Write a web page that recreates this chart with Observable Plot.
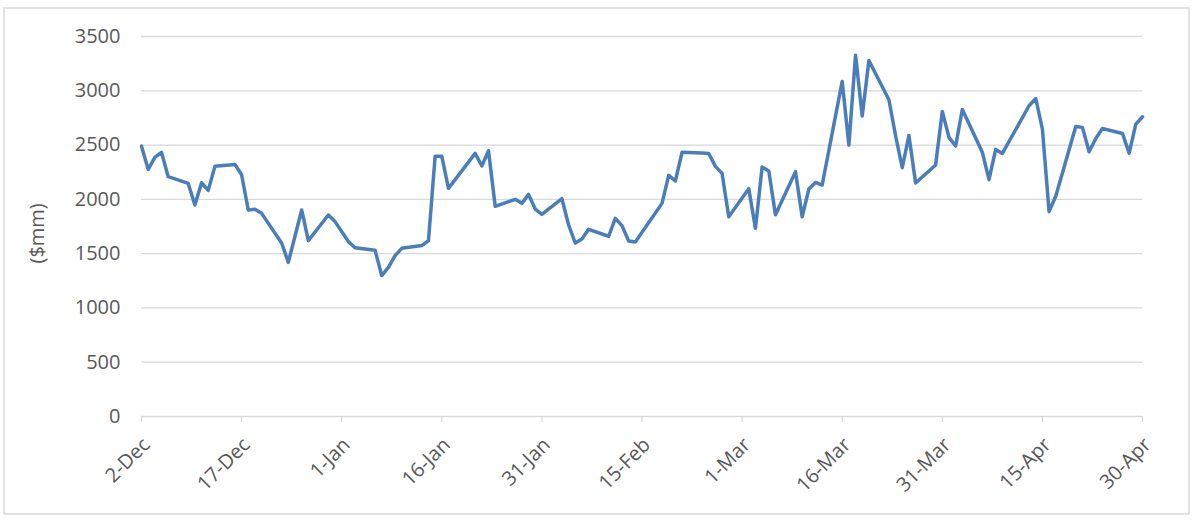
<!DOCTYPE html>
<html>
<head>
<meta charset="utf-8">
<script src="https://cdn.jsdelivr.net/npm/d3@7"></script>
<script src="https://cdn.jsdelivr.net/npm/@observablehq/plot@0.6"></script>
<style>
  html, body { margin: 0; padding: 0; background: #ffffff; }
  #chart { width: 1199px; height: 523px; }
</style>
</head>
<body>
<div id="chart"></div>
<script>
const dates = [
  "2019-12-02","2019-12-03","2019-12-04","2019-12-05","2019-12-06",
  "2019-12-09","2019-12-10","2019-12-11","2019-12-12","2019-12-13",
  "2019-12-16","2019-12-17","2019-12-18","2019-12-19","2019-12-20",
  "2019-12-23","2019-12-24","2019-12-26","2019-12-27",
  "2019-12-30","2019-12-31","2020-01-02","2020-01-03",
  "2020-01-06","2020-01-07","2020-01-08","2020-01-09","2020-01-10",
  "2020-01-13","2020-01-14","2020-01-15","2020-01-16","2020-01-17",
  "2020-01-21","2020-01-22","2020-01-23","2020-01-24",
  "2020-01-27","2020-01-28","2020-01-29","2020-01-30","2020-01-31",
  "2020-02-03","2020-02-04","2020-02-05","2020-02-06","2020-02-07",
  "2020-02-10","2020-02-11","2020-02-12","2020-02-13","2020-02-14",
  "2020-02-18","2020-02-19","2020-02-20","2020-02-21",
  "2020-02-24","2020-02-25","2020-02-26","2020-02-27","2020-02-28",
  "2020-03-02","2020-03-03","2020-03-04","2020-03-05","2020-03-06",
  "2020-03-09","2020-03-10","2020-03-11","2020-03-12","2020-03-13",
  "2020-03-16","2020-03-17","2020-03-18","2020-03-19","2020-03-20",
  "2020-03-23","2020-03-24","2020-03-25","2020-03-26","2020-03-27",
  "2020-03-30","2020-03-31","2020-04-01","2020-04-02","2020-04-03",
  "2020-04-06","2020-04-07","2020-04-08","2020-04-09",
  "2020-04-13","2020-04-14","2020-04-15","2020-04-16","2020-04-17",
  "2020-04-20","2020-04-21","2020-04-22","2020-04-23","2020-04-24",
  "2020-04-27","2020-04-28","2020-04-29","2020-04-30"
];
const values = [
  2490, 2276, 2387, 2433, 2209,
  2147, 1948, 2153, 2083, 2304,
  2322, 2227, 1902, 1908, 1871,
  1598, 1420, 1902, 1620,
  1856, 1795, 1611, 1555,
  1531, 1298, 1374, 1482, 1549,
  1574, 1620, 2396, 2396, 2101,
  2423, 2307, 2448, 1936,
  2000, 1963, 2046, 1911, 1862,
  2006, 1764, 1598, 1635, 1724,
  1660, 1825, 1758, 1617, 1608,
  1963, 2221, 2169, 2433,
  2428, 2423, 2304, 2239, 1840,
  2098, 1733, 2298, 2261, 1859,
  2255, 1840, 2095, 2156, 2132,
  3086, 2500, 3328, 2767, 3279,
  2917, 2586, 2291, 2589, 2150,
  2316, 2810, 2571, 2491, 2828,
  2433, 2181, 2460, 2423,
  2862, 2929, 2647, 1887, 2028,
  2672, 2663, 2439, 2561, 2653,
  2607, 2426, 2693, 2761
];
const xTickDates = ["2019-12-02","2019-12-17","2020-01-01","2020-01-16","2020-01-31","2020-02-15","2020-03-01","2020-03-16","2020-03-31","2020-04-15","2020-04-30"];
const yTicks = [0, 500, 1000, 1500, 2000, 2500, 3000, 3500];
const yLabel = "($mm)";

const parse = d3.utcParse("%Y-%m-%d");
const data = dates.map((d, i) => ({date: parse(d), value: values[i]}));
const xTicks = xTickDates.map(parse);

const chart = Plot.plot({
  width: 1199,
  height: 523,
  marginLeft: 141,
  marginRight: 57,
  marginTop: 36,
  marginBottom: 107,
  style: {fontFamily: "'Open Sans', sans-serif", fontSize: "20px", background: "#ffffff", overflow: "visible"},
  x: {type: "utc", domain: [xTicks[0], xTicks[xTicks.length - 1]]},
  y: {domain: [0, 3500]},
  marks: [
    Plot.ruleY(yTicks, {stroke: "#d9d9d9", strokeWidth: 1.3}),
    Plot.axisY({ticks: yTicks, tickFormat: d3.format("d"), tickSize: 0, tickPadding: 21, fill: "#595959", fontSize: 20, label: null}),
    Plot.axisX({ticks: xTicks, tickFormat: () => "", tickSize: 6, stroke: "#d9d9d9", strokeWidth: 1.3, label: null}),
    Plot.axisX({ticks: xTicks, tickFormat: d3.utcFormat("%-d-%b"), tickRotate: -45, tickSize: 0, tickPadding: 25, dx: 5,
                fill: "#595959", fontSize: 20, label: null}),
    Plot.text([yLabel], {frameAnchor: "left", rotate: -90, dx: -104, dy: 37, fill: "#595959", fontSize: 20}),
    Plot.line(data, {x: "date", y: "value", stroke: "#4a7ebb", strokeWidth: 3.5, strokeLinejoin: "round", strokeLinecap: "round"})
  ]
});

d3.select(chart).append("rect")
  .attr("x", 4).attr("y", 8).attr("width", 1185).attr("height", 506)
  .attr("fill", "none").attr("stroke", "#d9d9d9").attr("stroke-width", 1.5);

document.getElementById("chart").appendChild(chart);
</script>
</body>
</html>
